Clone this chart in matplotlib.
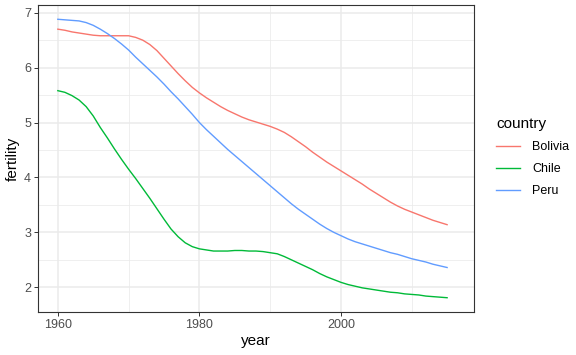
import matplotlib.pyplot as plt
from matplotlib.ticker import MultipleLocator

plt.rcParams['font.family'] = ['Liberation Sans', 'DejaVu Sans']

years = list(range(1960, 2016))

bolivia = [6.70, 6.68, 6.65, 6.63, 6.61, 6.59, 6.58, 6.58, 6.58, 6.58,
           6.58, 6.55, 6.50, 6.42, 6.31, 6.17, 6.03, 5.89, 5.76, 5.64,
           5.54, 5.45, 5.37, 5.29, 5.22, 5.16, 5.10, 5.05, 5.01, 4.97,
           4.93, 4.88, 4.82, 4.74, 4.65, 4.56, 4.46, 4.37, 4.28, 4.20,
           4.12, 4.04, 3.96, 3.88, 3.79, 3.71, 3.63, 3.55, 3.48, 3.42,
           3.37, 3.32, 3.27, 3.22, 3.18, 3.14]
chile = [5.58, 5.55, 5.49, 5.41, 5.29, 5.12, 4.91, 4.72, 4.52, 4.33,
         4.15, 3.98, 3.80, 3.62, 3.43, 3.24, 3.06, 2.92, 2.81, 2.74,
         2.70, 2.68, 2.66, 2.66, 2.66, 2.67, 2.67, 2.66, 2.66, 2.65,
         2.63, 2.61, 2.56, 2.50, 2.44, 2.38, 2.32, 2.25, 2.19, 2.14,
         2.09, 2.05, 2.02, 1.99, 1.97, 1.95, 1.93, 1.91, 1.90, 1.88,
         1.87, 1.86, 1.84, 1.83, 1.82, 1.81]
peru = [6.88, 6.87, 6.86, 6.85, 6.82, 6.77, 6.70, 6.62, 6.53, 6.43,
        6.32, 6.19, 6.07, 5.95, 5.83, 5.70, 5.56, 5.43, 5.29, 5.15,
        5.00, 4.87, 4.75, 4.63, 4.51, 4.40, 4.29, 4.18, 4.07, 3.96,
        3.85, 3.74, 3.63, 3.52, 3.42, 3.33, 3.24, 3.15, 3.07, 3.00,
        2.94, 2.88, 2.83, 2.79, 2.75, 2.71, 2.67, 2.63, 2.60, 2.56,
        2.52, 2.49, 2.46, 2.42, 2.39, 2.36]

countries = ["Bolivia", "Chile", "Peru"]
series = [bolivia, chile, peru]
colors = ["#F8766D", "#00BA38", "#619CFF"]

fig = plt.figure(figsize=(5.76, 3.55), dpi=100)
ax = fig.add_axes([38 / 576, 43 / 355, 436 / 576, 307 / 355])

for name, vals, col in zip(countries, series, colors):
    ax.plot(years, vals, color=col, lw=1.0, label=name, zorder=3)

ax.set_xlim(1957.2, 2018.8)
ax.set_ylim(1.55, 7.14)
ax.xaxis.set_minor_locator(MultipleLocator(10))
ax.yaxis.set_major_locator(MultipleLocator(1))
ax.yaxis.set_minor_locator(MultipleLocator(0.5))
ax.set_xticks([1960, 1980, 2000])
ax.grid(which='major', color='#EBEBEB', lw=1.1, zorder=0)
ax.grid(which='minor', color='#EBEBEB', lw=0.55, zorder=0)
ax.tick_params(which='major', length=3, width=0.7, color='#333333',
               labelsize=9, labelcolor='#4D4D4D', pad=2)
ax.tick_params(which='minor', length=0)
for s in ax.spines.values():
    s.set_color('#333333')
    s.set_linewidth(0.8)

ax.set_xlabel("year", fontsize=11, labelpad=2)
ax.set_ylabel("fertility", fontsize=11, labelpad=3)

leg = ax.legend(title="country", loc='upper left', bbox_to_anchor=(1.025, 0.672),
                frameon=False, fontsize=9, title_fontsize=11,
                handlelength=1.9, handletextpad=1.0, labelspacing=0.8)
leg._legend_box.align = "left"

fig.savefig("out.png", dpi=100)
